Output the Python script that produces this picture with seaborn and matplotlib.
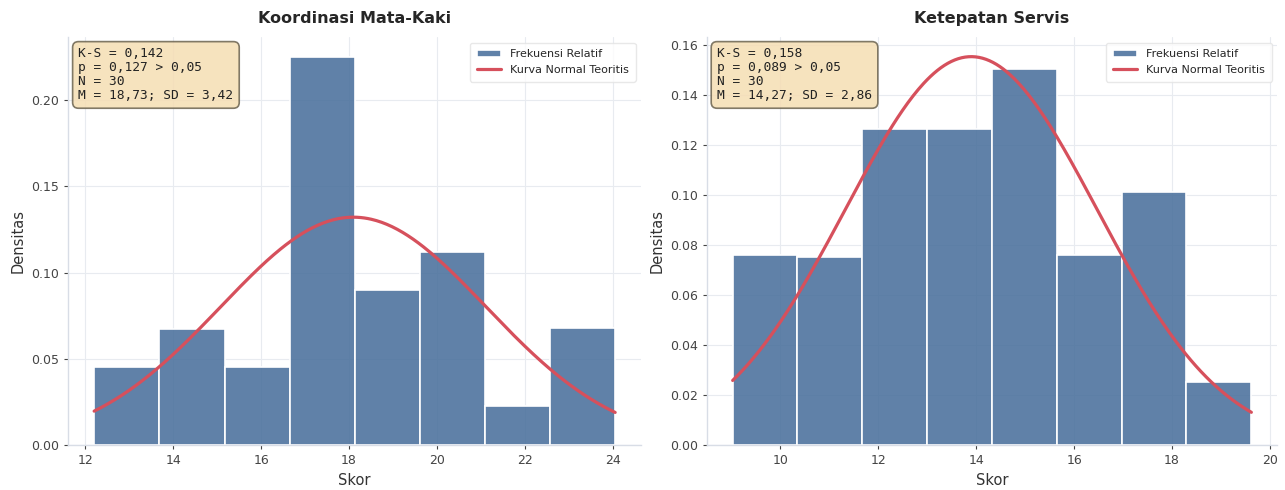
import numpy as np
import pandas as pd
import matplotlib
matplotlib.use("Agg")
import matplotlib.pyplot as plt
import seaborn as sns

# --- Koordinasi Mata-Kaki ---
kk_edges = [12.2, 13.68, 15.17, 16.65, 18.13, 19.61, 21.1, 22.58, 24.06]
kk_counts = [2, 3, 2, 10, 4, 5, 1, 3]
kk_curve_mean = 18.1
kk_curve_sd = 3.02
kk_stats = ["K-S = 0,142", "p = 0,127 > 0,05", "N = 30", "M = 18,73; SD = 3,42"]

# --- Ketepatan Servis ---
ks_edges = [9.03, 10.35, 11.68, 13.0, 14.32, 15.65, 16.97, 18.29, 19.62]
ks_counts = [3, 3, 5, 5, 6, 3, 4, 1]
ks_curve_mean = 13.9
ks_curve_sd = 2.57
ks_stats = ["K-S = 0,158", "p = 0,089 > 0,05", "N = 30", "M = 14,27; SD = 2,86"]

titles = ["Koordinasi Mata-Kaki", "Ketepatan Servis"]
xticks_list = [[12, 14, 16, 18, 20, 22, 24], [10, 12, 14, 16, 18, 20]]

BAR_COLOR = "#4a709c"
CURVE_COLOR = "#d6505c"
HIST_LABEL = "Frekuensi Relatif"
CURVE_LABEL = "Kurva Normal Teoritis"

sns.set_theme(style="whitegrid")
plt.rcParams["font.family"] = ["DejaVu Sans"]

fig = plt.figure(figsize=(12.85, 4.9), dpi=100)
ax1 = fig.add_axes([0.053, 0.092, 0.446, 0.832])
ax2 = fig.add_axes([0.550, 0.092, 0.444, 0.832])

panels = [
    (ax1, kk_edges, kk_counts, kk_curve_mean, kk_curve_sd, kk_stats),
    (ax2, ks_edges, ks_counts, ks_curve_mean, ks_curve_sd, ks_stats),
]

for i, (ax, edges, counts, mu, sd, stats) in enumerate(panels):
    e = np.asarray(edges, dtype=float)
    centers = (e[:-1] + e[1:]) / 2
    df = pd.DataFrame({"skor": centers, "n": np.asarray(counts, dtype=float)})
    sns.histplot(data=df, x="skor", weights="n", bins=list(edges), stat="density",
                 color=BAR_COLOR, alpha=0.88, edgecolor="white", linewidth=1.2,
                 ax=ax, label=HIST_LABEL, zorder=2)
    xs = np.linspace(e[0], e[-1], 300)
    ys = np.exp(-0.5 * ((xs - mu) / sd) ** 2) / (sd * np.sqrt(2 * np.pi))
    sns.lineplot(x=xs, y=ys, ax=ax, color=CURVE_COLOR, linewidth=2.3,
                 label=CURVE_LABEL, zorder=3)

    ax.set_title(titles[i], fontsize=11.5, fontweight="bold", pad=10)
    ax.set_xlabel("Skor", fontsize=10.5, color="#333333")
    ax.set_ylabel("Densitas", fontsize=10.5, color="#333333")
    ax.set_xticks(xticks_list[i])
    ax.tick_params(axis="both", labelsize=9, colors="#444444", length=3,
                   width=0.8, bottom=True, left=True)
    ax.grid(True, color="#e8ebf0", linewidth=0.8)
    ax.set_axisbelow(True)
    sns.despine(ax=ax)
    for side in ("left", "bottom"):
        ax.spines[side].set_color("#d8dde6")
        ax.spines[side].set_linewidth(1.0)

    ax.text(0.018, 0.975, "\n".join(stats), transform=ax.transAxes,
            va="top", ha="left", fontsize=9.3, family="DejaVu Sans Mono",
            color="#222222", linespacing=1.1,
            bbox=dict(boxstyle="round,pad=0.45", facecolor="#f5deb3",
                      edgecolor="#6b6350", linewidth=1.2, alpha=0.85))

    # histogram entry first, then the normal curve
    handles, labels = ax.get_legend_handles_labels()
    order = [labels.index(HIST_LABEL), labels.index(CURVE_LABEL)]
    leg = ax.legend([handles[k] for k in order], [labels[k] for k in order],
                    loc="upper right", fontsize=8, frameon=True,
                    borderpad=0.6, handlelength=2.2)
    leg.get_frame().set_edgecolor("#e3e3e3")
    leg.get_frame().set_facecolor("white")

fig.savefig("out.png", dpi=100)
